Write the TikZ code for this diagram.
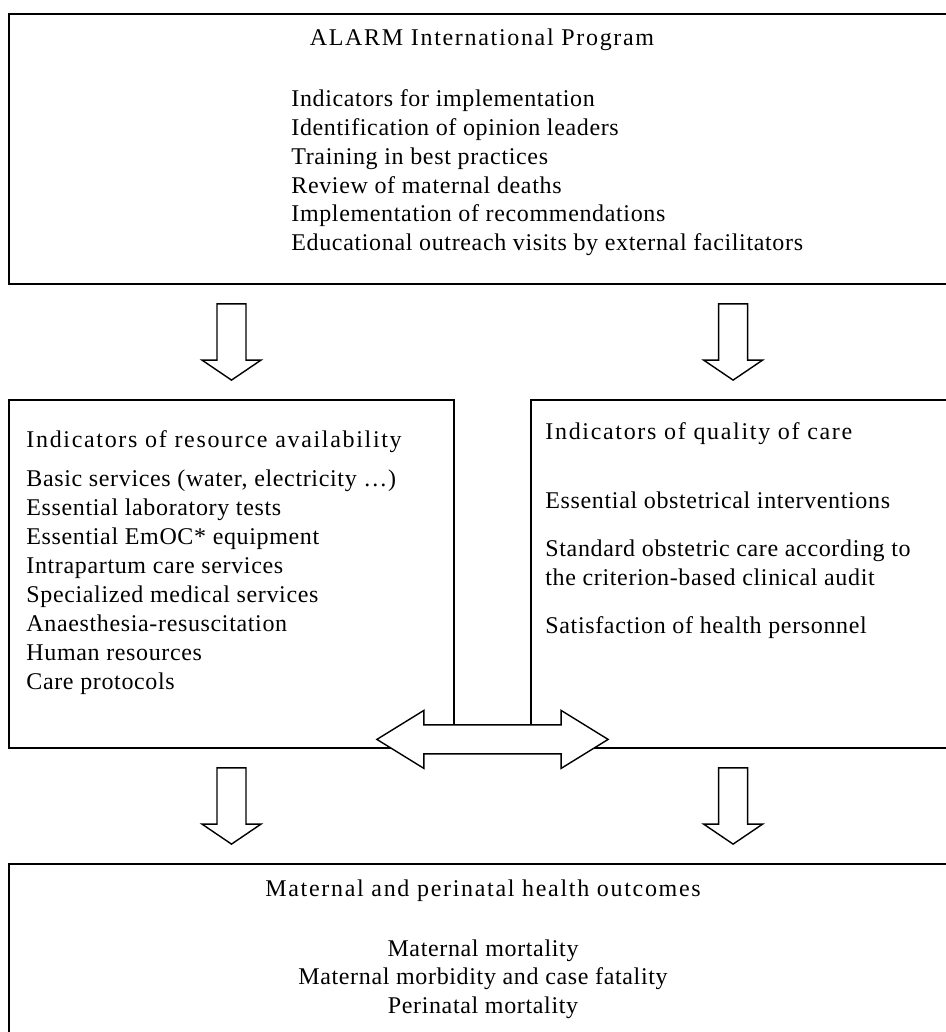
\documentclass[tikz,border=0pt]{standalone}
\usepackage{fontspec}
\setmainfont{Liberation Serif}[LetterSpace=2.7]
\newfontfamily\headfont{Liberation Serif}[LetterSpace=7]
\usetikzlibrary{calc,fit,positioning}

\tikzset{
  box/.style={draw, line width=0.9pt, inner sep=0pt},
  txt/.style={inner sep=0pt, font=\fontsize{12}{14}\selectfont},
  head/.style={txt, font=\fontsize{12}{14}\headfont},
  blockarrow/.style={draw, fill=white, line width=0.7pt, line join=miter},
}

% down block arrow: #1 top of shaft, #2 tip
\newcommand{\downblock}[2]{%
  \draw[blockarrow] let \p1=#1, \p2=#2 in
    (\x1-7.25pt,\y1) -- (\x1+7.25pt,\y1) -- (\x1+7.25pt,\y2+10pt)
    -- (\x1+14.75pt,\y2+10pt) -- (\x1,\y2) -- (\x1-14.75pt,\y2+10pt)
    -- (\x1-7.25pt,\y2+10pt) -- cycle;}
% two-headed block arrow: #1 left tip, #2 right tip
\newcommand{\bothblock}[2]{%
  \draw[blockarrow] let \p1=#1, \p2=#2 in
    (\p1) -- (\x1+23.5pt,\y1+14.5pt) -- (\x1+23.5pt,\y1+7.25pt)
    -- (\x2-23.5pt,\y1+7.25pt) -- (\x2-23.5pt,\y1+14.5pt) -- (\p2)
    -- (\x2-23.5pt,\y1-14.5pt) -- (\x2-23.5pt,\y1-7.25pt)
    -- (\x1+23.5pt,\y1-7.25pt) -- (\x1+23.5pt,\y1-14.5pt) -- cycle;}

\begin{document}
\begin{tikzpicture}[x=0.5pt,y=-0.5pt]
\useasboundingbox (0,0) rectangle (946,1032);
\clip (0,0) rectangle (946,1032);

% boxes
\node[box, fit={(9,14) (950,284)}] (prog) {};
\node[box, fit={(9,400) (454,748)}] (res) {};
\node[box, fit={(531,400) (950,748)}] (qual) {};
\node[box, fit={(9,864) (950,1040)}] (out) {};

% ALARM program
\node[head, anchor=base] (progtitle) at (482,46) {ALARM International Program};
\foreach \t [count=\i from 0] in {Indicators for implementation,
    Identification of opinion leaders, Training in best practices,
    Review of maternal deaths, Implementation of recommendations,
    Educational outreach visits by external facilitators}
  \node[txt, anchor=base west] (prog\i) at (291,107+28.7*\i) {\t};

% resource availability
\node[head, anchor=base west] (restitle) at (26,447) {Indicators of resource availability};
\foreach \t [count=\i from 0] in {{Basic services (water, electricity …)},
    Essential laboratory tests, Essential EmOC* equipment,
    Intrapartum care services, Specialized medical services,
    Anaesthesia-resuscitation, Human resources, Care protocols}
  \node[txt, anchor=base west] (res\i) at (26,486+29*\i) {\t};

% quality of care
\node[head, anchor=base west] (qualtitle) at (545,439) {Indicators of quality of care};
\node[txt, anchor=base west] (qual0) at (545,508) {Essential obstetrical interventions};
\node[txt, anchor=base west] (qual1) at (545,556) {Standard obstetric care according to};
\node[txt, anchor=base west] (qual2) at (545,585) {the criterion-based clinical audit};
\node[txt, anchor=base west] (qual3) at (545,633) {Satisfaction of health personnel};

% outcomes
\node[head, anchor=base] (outtitle) at (483,896) {Maternal and perinatal health outcomes};
\foreach \t [count=\i from 0] in {Maternal mortality,
    Maternal morbidity and case fatality, Perinatal mortality}
  \node[txt, anchor=base] (out\i) at (483,956+28.5*\i) {\t};

% arrows
\coordinate (qc) at ($(qual.north west)+(203,0)$);
\downblock{($(prog.south -| res.north)+(0,19)$)}{($(res.north)+(0,-19)$)}
\downblock{($(prog.south -| qc)+(0,19)$)}{($(qc)+(0,-19)$)}
\downblock{($(res.south)+(0,19)$)}{($(out.north -| res.south)+(0,-19)$)}
\downblock{($(res.south -| qc)+(0,19)$)}{($(out.north -| qc)+(0,-19)$)}
\bothblock{($(res.south east)+(-78,-9.5)$)}{($(qual.south west)+(78,-9.5)$)}
\end{tikzpicture}
\end{document}
